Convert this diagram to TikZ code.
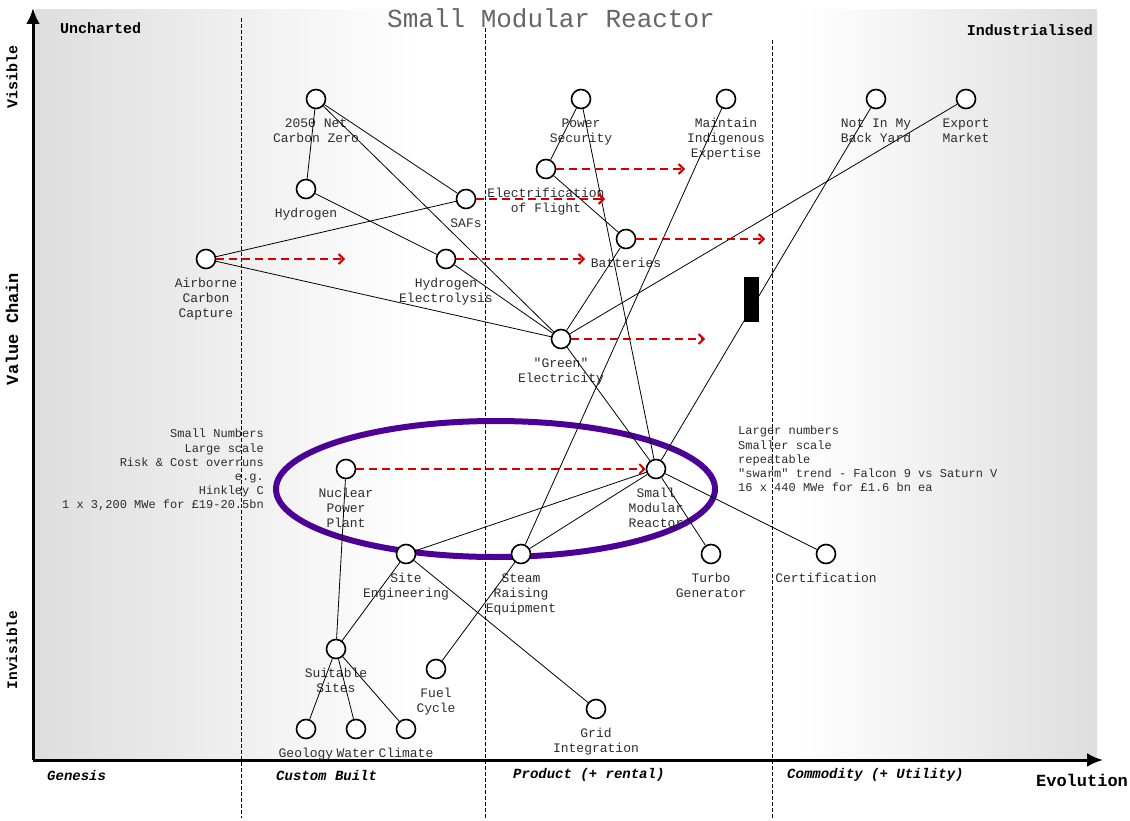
\documentclass[tikz,border=0pt]{standalone}
\usepackage{fontspec}
\setmonofont{Liberation Mono}
\renewcommand{\familydefault}{\ttdefault}
\usepackage{tikz}
\usetikzlibrary{arrows.meta}

\definecolor{evored}{RGB}{212,0,0}
\definecolor{pipepurple}{RGB}{76,0,150}
\definecolor{labelgray}{RGB}{45,45,45}

\tikzset{
	comp/.style={circle, draw=black, fill=white, line width=1.6pt, minimum size=19pt, inner sep=0pt},
	lbl/.style={font=\fontsize{13}{15}\selectfont, text=labelgray, align=center, inner sep=0pt, label distance=9pt},
	link/.style={draw=black, line width=0.8pt},
	evo/.style={draw=evored, line width=2pt, dash pattern=on 8pt off 5pt, -{Straight Barb[length=5pt,width=10pt]}},
	inertia/.style={fill=black, minimum width=15pt, minimum height=45pt, inner sep=0pt},
	stage/.style={font=\fontsize{14}{16}\selectfont\bfseries\itshape, anchor=west, inner sep=0pt},
	note/.style={font=\fontsize{12}{14.2}\selectfont, text=labelgray, inner sep=0pt}
}

\begin{document}
\begin{tikzpicture}[x=1pt, y=-1pt]
		\useasboundingbox (0,0) rectangle (1130,821);
		% background
		\shade[left color=gray!26, right color=white] (35,10) rectangle (420,760);
		\fill[white] (420,10) rectangle (800,760);
		\shade[left color=white, right color=gray!26] (800,10) rectangle (1097,760);
		\draw[line width=0.8pt, dash pattern=on 4pt off 2pt] (241,18) -- (241,818);
		\draw[line width=0.8pt, dash pattern=on 4pt off 2pt] (485,28) -- (485,818);
		\draw[line width=0.8pt, dash pattern=on 4pt off 2pt] (772,40) -- (772,818);
		% axes
		\draw[line width=3pt, -{Latex[length=16pt,width=14pt]}] (33,760) -- (33,8);
		\draw[line width=3pt, -{Latex[length=16pt,width=14pt]}] (33,760) -- (1103,760);
		\node[font=\fontsize{26}{30}\selectfont, text=gray!80!black] (title) at (551,18) {Small Modular Reactor};
		\node[font=\fontsize{15}{17}\selectfont\bfseries, anchor=west, inner sep=0pt] (uncharted) at (60,28) {Uncharted};
		\node[font=\fontsize{15}{17}\selectfont\bfseries, anchor=east, inner sep=0pt] (industrial) at (1093,30) {Industrialised};
		\node[font=\fontsize{15}{17}\selectfont\bfseries, rotate=90] (visible) at (12,77) {Visible};
		\node[font=\fontsize{17}{19}\selectfont\bfseries, rotate=90] (valuechain) at (12,329) {Value Chain};
		\node[font=\fontsize{14.5}{17}\selectfont\bfseries, rotate=90] (invisible) at (12,650) {Invisible};
		\node[font=\fontsize{17}{19}\selectfont\bfseries] (evolution) at (1082,780) {Evolution};
		\node[stage] (genesis) at (47,775) {Genesis};
		\node[stage] (custom) at (276,775) {Custom Built};
		\node[stage] (product) at (513,775) {Product (+ rental)};
		\node[stage] (commodity) at (787,775) {Commodity (+ Utility)};
		% pipeline
		\draw[pipepurple, line width=6pt] (495.5,489) ellipse [x radius=219.5pt, y radius=68pt];
		% components
		\node[comp, label={[lbl]below:{2050 Net\\Carbon Zero}}] (net) at (316,99) {};
		\node[comp, label={[lbl]below:{Power\\Security}}] (powersec) at (581,99) {};
		\node[comp, label={[lbl]below:{Maintain\\Indigenous\\Expertise}}] (indig) at (726,99) {};
		\node[comp, label={[lbl]below:{Not In My\\Back Yard}}] (nimby) at (876,99) {};
		\node[comp, label={[lbl]below:{Export\\Market}}] (export) at (966,99) {};
		\node[comp, label={[lbl]below:{Hydrogen}}] (hydrogen) at (306,189) {};
		\node[comp, label={[lbl]below:{Electrification\\of Flight}}] (flight) at (546,169) {};
		\node[comp, label={[lbl]below:{SAFs}}] (safs) at (466,199) {};
		\node[comp, label={[lbl]below:{Batteries}}] (batteries) at (626,239) {};
		\node[comp, label={[lbl]below:{Airborne\\Carbon\\Capture}}] (dac) at (206,259) {};
		\node[comp, label={[lbl]below:{Hydrogen\\Electrolysis}}] (electrolysis) at (446,259) {};
		\node[comp, label={[lbl]below:{"Green"\\Electricity}}] (green) at (561,339) {};
		\node[comp, label={[lbl]below:{Nuclear\\Power\\Plant}}] (nuclear) at (346,469) {};
		\node[comp, label={[lbl]below:{Small\\Modular\\Reactor}}] (smr) at (656,469) {};
		\node[comp, label={[lbl]below:{Site\\Engineering}}] (site) at (406,554) {};
		\node[comp, label={[lbl]below:{Steam\\Raising\\Equipment}}] (steam) at (521,554) {};
		\node[comp, label={[lbl]below:{Turbo\\Generator}}] (turbo) at (711,554) {};
		\node[comp, label={[lbl]below:{Certification}}] (cert) at (826,554) {};
		\node[comp, label={[lbl]below:{Suitable\\Sites}}] (sites) at (336,649) {};
		\node[comp, label={[lbl]below:{Fuel\\Cycle}}] (fuel) at (436,669) {};
		\node[comp, label={[lbl]below:{Geology}}] (geology) at (306,729) {};
		\node[comp, label={[lbl]below:{Water}}] (water) at (356,729) {};
		\node[comp, label={[lbl]below:{Climate}}] (climate) at (406,729) {};
		\node[comp, label={[lbl]below:{Grid\\Integration}}] (grid) at (596,709) {};
		% links
		\draw[link] (net) -- (hydrogen);
		\draw[link] (net) -- (safs);
		\draw[link] (net) -- (green);
		\draw[link] (hydrogen) -- (electrolysis);
		\draw[link] (electrolysis) -- (green);
		\draw[link] (dac) -- (safs);
		\draw[link] (dac) -- (green);
		\draw[link] (powersec) -- (flight);
		\draw[link] (powersec) -- (smr);
		\draw[link] (flight) -- (batteries);
		\draw[link] (batteries) -- (green);
		\draw[link] (indig) -- (steam);
		\draw[link] (export) -- (green);
		\draw[link] (nimby) -- (smr);
		\node[inertia] (bar) at (751,299.5) {};
		\draw[link] (green) -- (smr);
		\draw[link] (smr) -- (site);
		\draw[link] (smr) -- (steam);
		\draw[link] (smr) -- (turbo);
		\draw[link] (smr) -- (cert);
		\draw[link] (nuclear) -- (sites);
		\draw[link] (site) -- (sites);
		\draw[link] (site) -- (grid);
		\draw[link] (steam) -- (fuel);
		\draw[link] (sites) -- (geology);
		\draw[link] (sites) -- (water);
		\draw[link] (sites) -- (climate);
		% evolution
		\coordinate (dac-to) at (345,259);
		\coordinate (electrolysis-to) at (585,259);
		\coordinate (safs-to) at (605,199);
		\coordinate (flight-to) at (685,169);
		\coordinate (batteries-to) at (765,239);
		\coordinate (green-to) at (705,339);
		\draw[evo] (dac) -- (dac-to);
		\draw[evo] (electrolysis) -- (electrolysis-to);
		\draw[evo] (safs) -- (safs-to);
		\draw[evo] (flight) -- (flight-to);
		\draw[evo] (batteries) -- (batteries-to);
		\draw[evo] (green) -- (green-to);
		\draw[evo] (nuclear) -- (smr);
		% notes
		\node[note, anchor=north east, align=right] (bignote) at (264,429) {Small Numbers\\Large scale\\Risk \& Cost overruns\\e.g.\\Hinkley C\\1 x 3,200 MWe for £19-20.5bn};
		\node[note, anchor=north west, align=left] (smallnote) at (738,426) {Larger numbers\\Smaller scale\\repeatable\\"swarm" trend - Falcon 9 vs Saturn V\\16 x 440 MWe for £1.6 bn ea};
\end{tikzpicture}
\end{document}
